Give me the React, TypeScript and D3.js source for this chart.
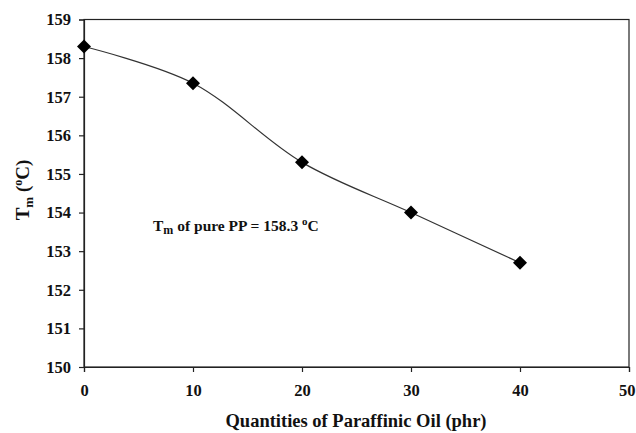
import React, { useRef, useEffect } from 'react';
import * as d3 from 'd3';

const oilPhr = [0, 10, 20, 30, 40];
const meltTemp = [158.3, 157.35, 155.3, 154.0, 152.7];
const xTicks = [0, 10, 20, 30, 40, 50];
const yTicks = [150, 151, 152, 153, 154, 155, 156, 157, 158, 159];

const App = () => {
  const svgRef = useRef<SVGSVGElement>(null);
  const width = 636;
  const height = 433;
  const margin = { top: 19.5, right: 7, bottom: 66, left: 84 };

  useEffect(() => {
    const svg = d3.select(svgRef.current);
    svg.selectAll('*').remove();
    const font = '"Liberation Serif", "Times New Roman", serif';

    const x = d3.scaleLinear().domain([0, 50]).range([margin.left, width - margin.right]);
    const y = d3.scaleLinear().domain([150, 159]).range([height - margin.bottom, margin.top]);

    // frame
    svg.append('rect')
      .attr('x', x(0)).attr('y', y(159))
      .attr('width', x(50) - x(0)).attr('height', y(150) - y(159))
      .attr('fill', 'none').attr('stroke', '#222').attr('stroke-width', 1.2);

    const xAxis = svg.append('g')
      .attr('transform', `translate(0,${y(150)})`)
      .call(d3.axisBottom(x).tickValues(xTicks).tickSize(5).tickPadding(12).tickFormat(d3.format('d')));
    const yAxis = svg.append('g')
      .attr('transform', `translate(${x(0)},0)`)
      .call(d3.axisLeft(y).tickValues(yTicks).tickSize(5).tickPadding(8).tickFormat(d3.format('d')));

    [xAxis, yAxis].forEach(g => {
      g.select('.domain').attr('stroke', '#222').attr('stroke-width', 1.2);
      g.selectAll('.tick line').attr('stroke', '#222').attr('stroke-width', 1.2);
      g.selectAll('text')
        .attr('font-family', font)
        .attr('font-weight', 'bold')
        .attr('font-size', 16.5)
        .attr('fill', '#111');
    });
    // last label sits at the window edge, keep it inside
    xAxis.selectAll<SVGTextElement, number>('.tick text')
      .filter(d => d === 50)
      .attr('text-anchor', 'end')
      .attr('x', 6);

    const pts = oilPhr.map((d, i) => [d, meltTemp[i]] as [number, number]);
    const line = d3.line<[number, number]>()
      .x(d => x(d[0])).y(d => y(d[1]))
      .curve(d3.curveCatmullRom.alpha(0.5));

    svg.append('path')
      .datum(pts)
      .attr('d', line)
      .attr('fill', 'none')
      .attr('stroke', '#333')
      .attr('stroke-width', 1.2);

    svg.append('g')
      .selectAll('path')
      .data(pts)
      .join('path')
      .attr('transform', d => `translate(${x(d[0])},${y(d[1])})`)
      .attr('d', 'M0,-7L7,0L0,7L-7,0Z')
      .attr('fill', '#000');

    // axis titles
    svg.append('text')
      .attr('x', 356)
      .attr('y', 427)
      .attr('text-anchor', 'middle')
      .attr('font-family', font)
      .attr('font-weight', 'bold')
      .attr('font-size', 18.5)
      .attr('fill', '#111')
      .text('Quantities of Paraffinic Oil (phr)');

    const yt = svg.append('text')
      .attr('transform', `translate(29,190) rotate(-90)`)
      .attr('text-anchor', 'middle')
      .attr('font-family', font)
      .attr('font-weight', 'bold')
      .attr('font-size', 19)
      .attr('fill', '#111');
    yt.append('tspan').text('T');
    yt.append('tspan').attr('font-size', 13).attr('dy', 4).text('m');
    yt.append('tspan').attr('dy', -4).text(' (');
    yt.append('tspan').attr('font-size', 12).attr('dy', -7).text('o');
    yt.append('tspan').attr('dy', 7).text('C)');

    // annotation
    const ann = svg.append('text')
      .attr('x', 153)
      .attr('y', 231)
      .attr('font-family', font)
      .attr('font-weight', 'bold')
      .attr('font-size', 15.5)
      .attr('fill', '#111');
    ann.append('tspan').text('T');
    ann.append('tspan').attr('font-size', 12).attr('dy', 3).text('m');
    ann.append('tspan').attr('dy', -3).text(' of pure PP = 158.3 ');
    ann.append('tspan').attr('font-size', 11).attr('dy', -6).text('o');
    ann.append('tspan').attr('dy', 6).text('C');
  }, []);

  return (
    <svg ref={svgRef} width={width} height={height}
      style={{ position: 'absolute', left: 0, top: 0, background: '#fff' }} />
  );
};

export default App;
